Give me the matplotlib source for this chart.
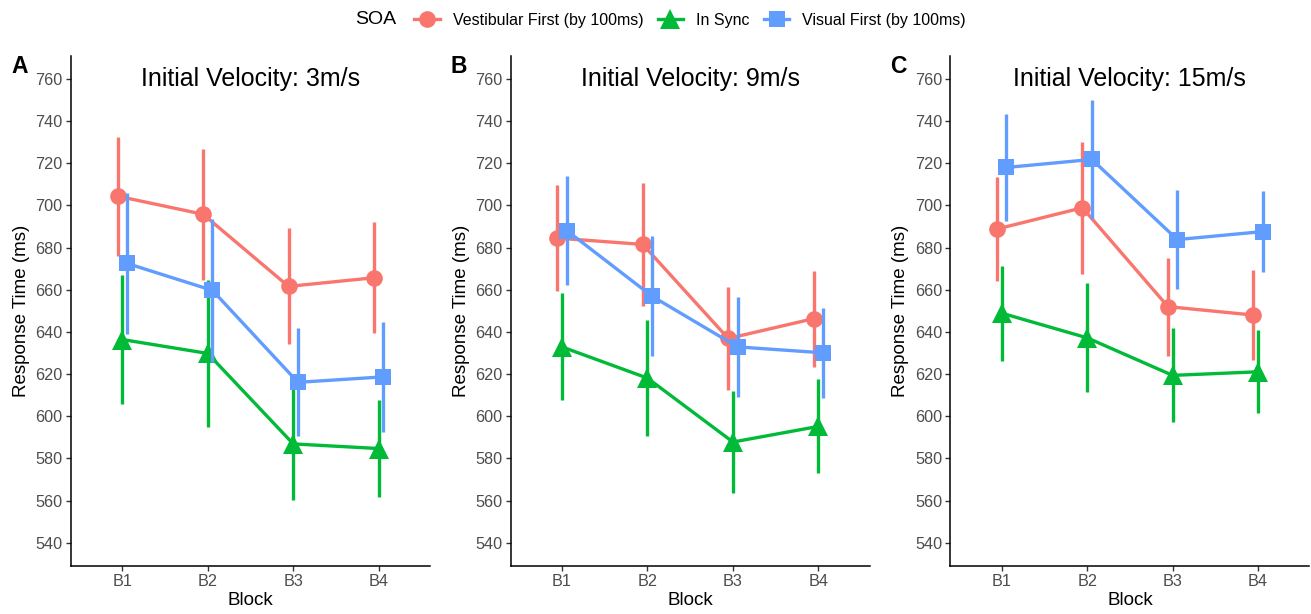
import matplotlib
matplotlib.use("Agg")
import matplotlib.pyplot as plt
from matplotlib.lines import Line2D
import numpy as np

plt.rcParams['font.family'] = ['Liberation Sans', 'DejaVu Sans']

blocks = ['B1', 'B2', 'B3', 'B4']
soa_labels = ['Vestibular First (by 100ms)', 'In Sync', 'Visual First (by 100ms)']
soa_colors = ['#F8766D', '#00BA38', '#619CFF']
soa_markers = ['o', '^', 's']
soa_msize = [12, 14, 12]
panel_letters = ['A', 'B', 'C']
panel_titles = ['Initial Velocity: 3m/s', 'Initial Velocity: 9m/s', 'Initial Velocity: 15m/s']

# mean response times (ms), order: vestibular first, in sync, visual first
means_3 = [[704.4, 695.8, 661.6, 665.7],
           [636.4, 629.8, 586.9, 584.7],
           [672.5, 659.7, 616.1, 618.7]]
ci_3 = [[28.2, 31.0, 27.5, 26.2],
        [30.8, 35.0, 26.6, 23.2],
        [33.4, 34.0, 25.6, 26.0]]

means_9 = [[684.5, 681.5, 636.9, 646.3],
           [632.9, 618.1, 587.8, 595.2],
           [688.1, 656.9, 632.9, 630.1]]
ci_9 = [[25.2, 29.2, 24.5, 22.7],
        [25.4, 27.4, 24.0, 22.3],
        [25.8, 28.5, 23.6, 21.3]]

means_15 = [[688.8, 698.9, 652.0, 648.0],
            [648.9, 637.2, 619.4, 621.1],
            [718.0, 721.8, 683.8, 687.6]]
ci_15 = [[24.7, 31.4, 23.3, 21.3],
         [22.5, 25.8, 22.3, 19.7],
         [25.2, 28.2, 23.5, 19.3]]

all_means = [means_3, means_9, means_15]
all_ci = [ci_3, ci_9, ci_15]

W, H = 1311, 614
fig = plt.figure(figsize=(W / 100, H / 100), dpi=100)

lefts = [71, 510.7, 950.4]
ax_w = 359
ax_top, ax_bot = 55.7, 566
dodge = [-0.055, 0.0, 0.055]
x = np.arange(len(blocks))

for p in range(3):
    ax = fig.add_axes([lefts[p] / W, 1 - ax_bot / H, ax_w / W, (ax_bot - ax_top) / H])
    for g in range(3):
        ax.errorbar(x + dodge[g], all_means[p][g], yerr=all_ci[p][g],
                    color=soa_colors[g], lw=2.4, elinewidth=2.4, capsize=0,
                    marker=soa_markers[g], markersize=soa_msize[g],
                    markeredgewidth=0, zorder=2 + g)
    ax.set_xlim(-0.6, 3.6)
    ax.set_ylim(529, 771)
    ax.set_yticks(np.arange(540, 761, 20))
    ax.set_xticks(x)
    ax.set_xticklabels(blocks)
    for s in ['top', 'right']:
        ax.spines[s].set_visible(False)
    for s in ['left', 'bottom']:
        ax.spines[s].set_linewidth(1.1)
        ax.spines[s].set_color('black')
    ax.tick_params(axis='both', labelsize=11.7, labelcolor='#4D4D4D',
                   color='#333333', length=3.5, width=1.0, pad=2.5)
    ax.set_xlabel('Block', fontsize=13.5, labelpad=2)
    ax.set_ylabel('Response Time (ms)', fontsize=13.5, labelpad=4)
    ax.text(0.5, 760, panel_titles[p], transform=ax.get_yaxis_transform(),
            ha='center', va='center', fontsize=18)
    fig.text((lefts[p] - 60) / W, 1 - 73 / H, panel_letters[p],
             fontsize=16.5, fontweight='bold', ha='left', va='baseline')

# legend across the top
fig.text(355 / W, 1 - 20 / H, 'SOA', fontsize=14, ha='left', va='center')
handles = [Line2D([0], [0], color=soa_colors[g], lw=2.4, marker=soa_markers[g],
                  markersize=soa_msize[g], markeredgewidth=0) for g in range(3)]
fig.legend(handles, soa_labels, loc='center', bbox_to_anchor=(690 / W, 1 - 20 / H),
           ncol=3, frameon=False, fontsize=11.5, handlelength=1.6,
           handletextpad=0.8, columnspacing=0.9, borderpad=0)

fig.savefig('out.png', dpi=100)
